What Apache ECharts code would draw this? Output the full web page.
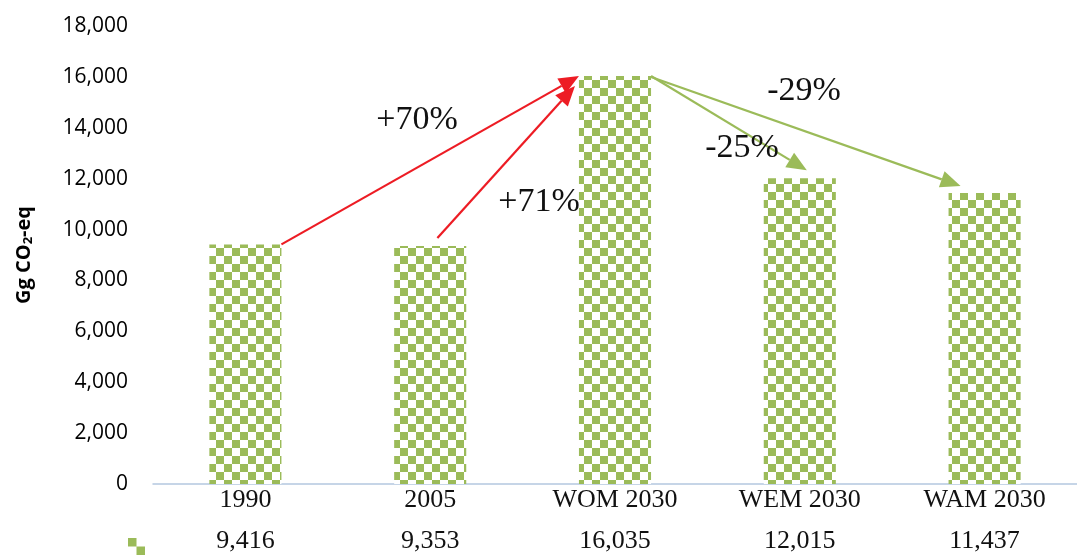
<!DOCTYPE html>
<html>
<head>
<meta charset="utf-8">
<script src="https://cdn.jsdelivr.net/npm/echarts@6/dist/echarts.min.js"></script>
<style>
html,body{margin:0;padding:0;background:#fff;}
#chart{width:1077px;height:555px;}
</style>
</head>
<body>
<div id="chart"></div>
<script>
// ---- data ----
const categories = ['1990', '2005', 'WOM 2030', 'WEM 2030', 'WAM 2030'];
const values = [9416, 9353, 16035, 12015, 11437];
const changeLabels = ['+70%', '+71%', '-25%', '-29%'];
const changeFrom = [0, 1, 2, 2];
const changeTo = [2, 2, 3, 4];

const GREEN = '#9BBB59';
const RED = '#ED1C24';

// checker pattern
const cell = 8;
const pc = document.createElement('canvas');
pc.width = cell * 2; pc.height = cell * 2;
const pctx = pc.getContext('2d');
pctx.fillStyle = '#ffffff';
pctx.fillRect(0, 0, cell * 2, cell * 2);
pctx.fillStyle = GREEN;
pctx.fillRect(0, 0, cell, cell);
pctx.fillRect(cell, cell, cell, cell);

const fmt = v => v.toLocaleString('en-US');

const chart = echarts.init(document.getElementById('chart'), null, {renderer: 'canvas'});
const BAR_RATIO = 0.39;

chart.setOption({
  animation: false,
  backgroundColor: '#ffffff',
  grid: {left: 153, right: 0, top: 26, bottom: 71, containLabel: false},
  legend: {
    show: true,
    left: 123, top: 533,
    itemWidth: 17, itemHeight: 17,
    data: [{name: 'Emissions', icon: 'path://M0,0H1V1H0Z M1,1H2V2H1Z'}],
    itemStyle: {color: GREEN},
    formatter: () => '',
    selectedMode: false
  },
  xAxis: {
    type: 'category',
    data: categories,
    axisLine: {show: true, lineStyle: {color: '#B4C7E0', width: 1.5}},
    axisTick: {show: false},
    axisLabel: {
      margin: 1,
      interval: 0,
      formatter: (v, i) => '{c|' + v + '}\n{v|' + fmt(values[i]) + '}',
      rich: {
        c: {fontFamily: 'Liberation Serif', fontSize: 26, color: '#111', lineHeight: 30},
        v: {fontFamily: 'Liberation Serif', fontSize: 26, color: '#111', lineHeight: 52}
      }
    }
  },
  yAxis: {
    type: 'value',
    min: 0, max: 18000, interval: 2000,
    axisLine: {show: false},
    axisTick: {show: false},
    splitLine: {show: false},
    axisLabel: {
      margin: 25,
      fontFamily: 'Open Sans', fontSize: 21, color: '#000',
      formatter: v => fmt(v)
    },
    name: '{a|Gg CO}{s|2}{a|-eq}',
    nameLocation: 'middle',
    nameGap: 118,
    nameRotate: 90,
    nameTextStyle: {
      rich: {
        a: {fontFamily: 'Open Sans', fontWeight: 'bold', fontSize: 20, color: '#000'},
        s: {fontFamily: 'Open Sans', fontWeight: 'bold', fontSize: 13, color: '#000', padding: [9, 0, 0, 0]}
      }
    }
  },
  series: [{
    name: 'Emissions',
    type: 'bar',
    data: values,
    barWidth: (BAR_RATIO * 100) + '%',
    itemStyle: {color: {image: pc, repeat: 'repeat'}}
  }]
});

// ---- arrows computed from the axes ----
function px(i) { return chart.convertToPixel({seriesIndex: 0}, [i, values[i]]); }
const p0 = chart.convertToPixel({seriesIndex: 0}, [0, 0]);
const p1 = chart.convertToPixel({seriesIndex: 0}, [1, 0]);
const band = p1[0] - p0[0];
const bw = band * BAR_RATIO;

function arrow(a, b, color, headLen, headW) {
  const dx = b[0] - a[0], dy = b[1] - a[1];
  const len = Math.sqrt(dx * dx + dy * dy);
  const ux = dx / len, uy = dy / len;
  const base = [b[0] - ux * headLen, b[1] - uy * headLen];
  const nx = -uy, ny = ux;
  return [
    {type: 'line', shape: {x1: a[0], y1: a[1], x2: base[0], y2: base[1]},
     style: {stroke: color, lineWidth: 2.2}, z: 10},
    {type: 'polygon', shape: {points: [
      [b[0], b[1]],
      [base[0] + nx * headW / 2, base[1] + ny * headW / 2],
      [base[0] - nx * headW / 2, base[1] - ny * headW / 2]
    ]}, style: {fill: color}, z: 10}
  ];
}

const c = categories.map((_, i) => px(i));
const starts = [
  [c[0][0] + bw / 2, c[0][1]],
  [c[1][0] + bw * 0.1, c[1][1] - 8],
  [c[2][0] + bw / 2, c[2][1]],
  [c[2][0] + bw / 2, c[2][1] + 1]
];
const ends = [
  [c[2][0] - bw / 2, c[2][1]],
  [c[2][0] - bw / 2 - 4, c[2][1] + 10],
  [c[3][0] + 7, c[3][1] - 8],
  [c[4][0] - 24, c[4][1] - 7]
];
const colors = [RED, RED, GREEN, GREEN];
const labelPos = [[417, 120], [539, 202], [742, 148], [804, 91]];

let g = [];
for (let k = 0; k < changeLabels.length; k++) {
  g = g.concat(arrow(starts[k], ends[k], colors[k], 20, 17));
  g.push({
    type: 'text', x: labelPos[k][0], y: labelPos[k][1], z: 11,
    style: {text: changeLabels[k], fontFamily: 'Liberation Serif', fontSize: 34,
            fill: '#111', align: 'center', verticalAlign: 'middle'}
  });
}
chart.setOption({graphic: g});
</script>
</body>
</html>
